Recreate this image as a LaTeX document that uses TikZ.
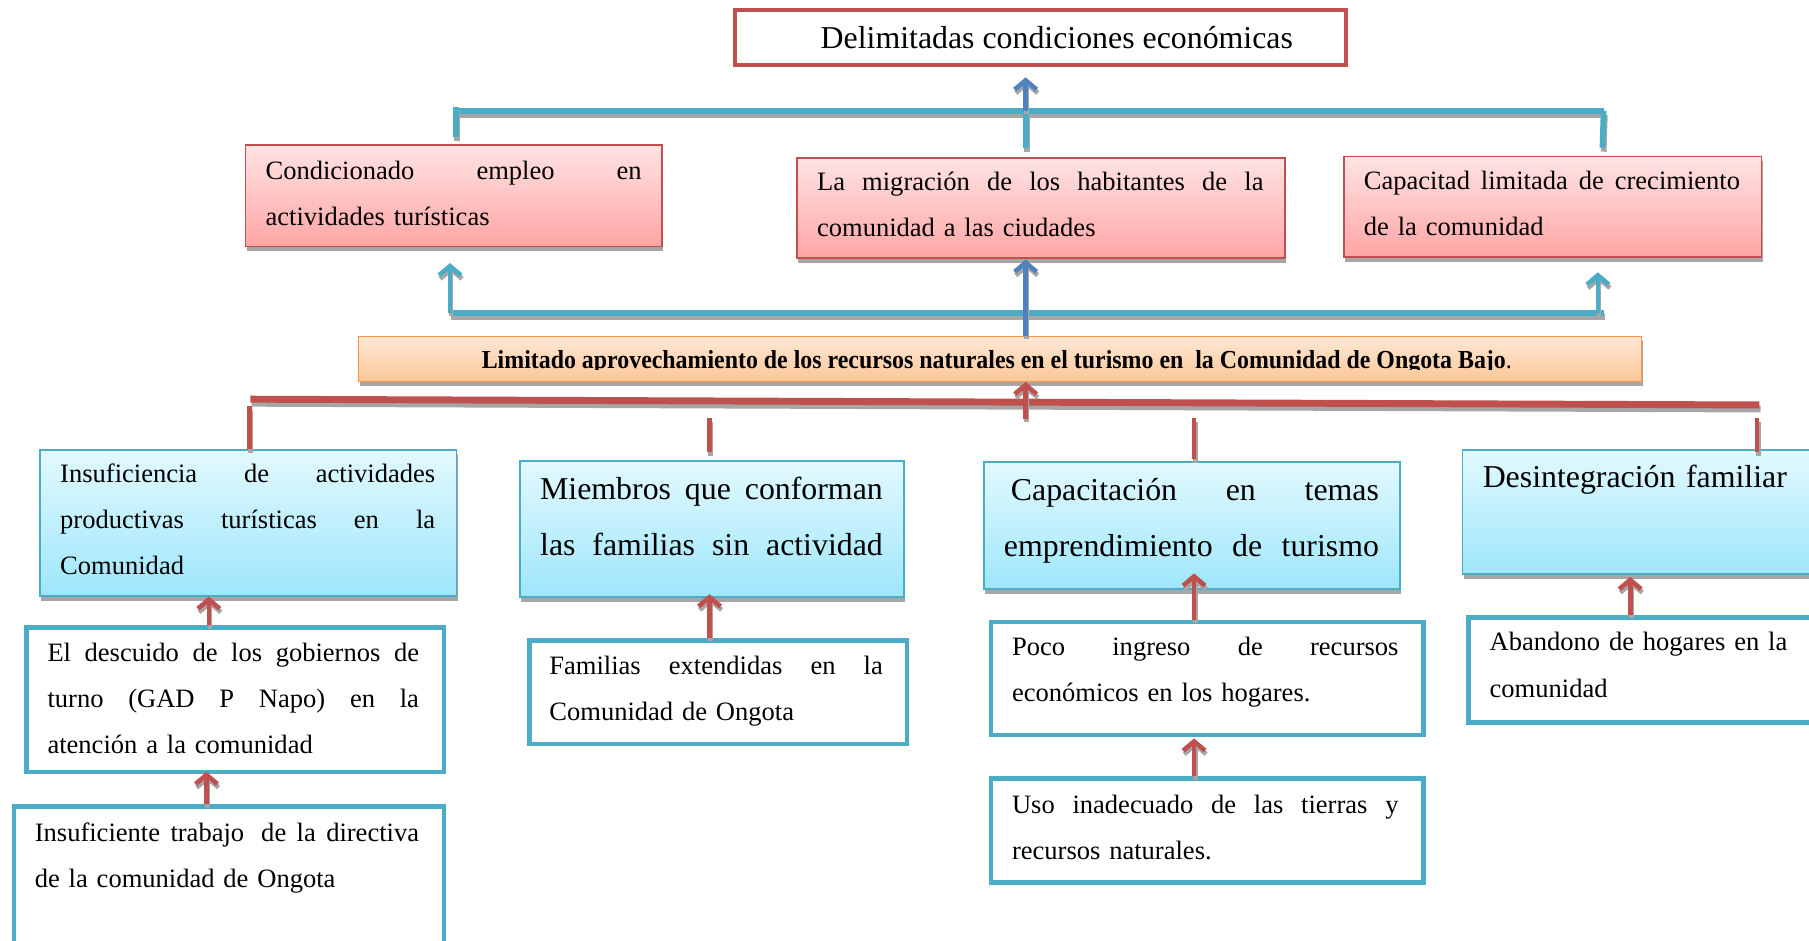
\documentclass[tikz,border=0pt]{standalone}
\usepackage{fontspec}
\usepackage{graphicx}
\setmainfont{Liberation Serif}
\usetikzlibrary{arrows.meta,shadows,calc}
\definecolor{cred}{HTML}{C0504D}
\definecolor{cteal}{HTML}{4BACC6}
\definecolor{cblue}{HTML}{4F81BD}
\definecolor{corange}{HTML}{F79646}
\definecolor{sgray}{HTML}{A6A6A6}
\definecolor{pinkT}{HTML}{FFE3E3}
\definecolor{pinkB}{HTML}{FFA5A5}
\definecolor{cyanT}{HTML}{E2F9FE}
\definecolor{cyanB}{HTML}{9EE6FB}
\definecolor{orT}{HTML}{FEE8D6}
\definecolor{orB}{HTML}{FBC697}
\newcommand{\jsp}{\hskip 0.25em plus 1fil\relax}
\newcommand{\jline}[2]{\leavevmode\hbox to #1{#2}}
\tikzset{
  boxshadow/.style={drop shadow={shadow xshift=1pt,shadow yshift=-4pt,fill=sgray,opacity=1}},
  pinkbox/.style={draw=cred, line width=1.5pt, top color=pinkT, bottom color=pinkB, boxshadow, anchor=north west, inner sep=0pt},
  cyanbox/.style={draw=cteal, line width=1.5pt, top color=cyanT, bottom color=cyanB, boxshadow, anchor=north west, inner sep=0pt},
  whitebox/.style={draw=cteal, line width=4pt, fill=white, anchor=north west, inner sep=0pt},
  titlebox/.style={draw=cred, line width=3.5pt, fill=white, anchor=north west, inner sep=0pt},
  orangebox/.style={draw=corange, line width=1.5pt, top color=orT, bottom color=orB, boxshadow, anchor=north west, inner sep=0pt},
  txtA/.style={anchor=north west, inner sep=0pt, align=left, font=\fontsize{23}{40}\selectfont},
  txtB/.style={anchor=north west, inner sep=0pt, align=left, font=\fontsize{27.6}{48}\selectfont},
  lineshadow/.style={preaction={draw=sgray, line width=#1, transform canvas={shift={(1pt,-3.5pt)}}}},
  tealline/.style={draw=cteal, line width=5pt, lineshadow=5pt},
  redline/.style={draw=cred, line width=6pt, lineshadow=6pt},
  redstub/.style={draw=cred, line width=4pt, lineshadow=4pt},
  tip/.style={-{Straight Barb[length=8pt,width=19pt]}},
  arrowshadow/.style={preaction={draw=sgray, line width=4pt, tip, transform canvas={shift={(1pt,-3pt)}}}},
  redarrow/.style={draw=cred, line width=4pt, tip, arrowshadow},
  bluearrow/.style={draw=cblue, line width=4pt, tip, arrowshadow},
  tealarrow/.style={draw=cteal, line width=4pt, tip, arrowshadow},
}
\begin{document}
\begin{tikzpicture}[x=1pt,y=-1pt]
\useasboundingbox (0,0) rectangle (1568,815);
\clip (0,0) rectangle (1568,815);
\fill[white] (0,0) rectangle (1568,815);

% ---------- top ----------
\node[titlebox, minimum width=530pt, minimum height=48pt] (top) at (635,7) {};
\node[anchor=base, inner sep=0pt, font=\fontsize{27.6}{33}\selectfont] (top-t) at (916,42) {Delimitadas condiciones económicas};

% ---------- effects row ----------
\node[pinkbox, minimum width=361pt, minimum height=88pt] (a) at (212,125) {};
\node[txtA, text width=326pt] (a-t) at (230,135) {\rule{0pt}{20pt}\jline{326pt}{Condicionado\jsp empleo\jsp en}\\actividades turísticas};

\node[pinkbox, minimum width=423pt, minimum height=87pt] (b) at (690,136) {};
\node[txtA, text width=387pt] (b-t) at (708,145) {\rule{0pt}{20pt}\jline{387pt}{La\jsp migración\jsp de\jsp los\jsp habitantes\jsp de\jsp la}\\comunidad a las ciudades};

\node[pinkbox, minimum width=362pt, minimum height=87pt] (c) at (1164,135) {};
\node[txtA, text width=326pt] (c-t) at (1182,144) {\rule{0pt}{20pt}\jline{326pt}{Capacitad\jsp limitada\jsp de\jsp crecimiento}\\de la comunidad};

% ---------- central problem ----------
\node[orangebox, minimum width=1112pt, minimum height=39pt] (o) at (310,291) {};
\begin{scope}
\clip (310,293) rectangle (1422,320.5);
\node[anchor=base, inner sep=0pt, font=\bfseries\fontsize{22.5}{26}\selectfont] (o-t) at (864,319) {\scalebox{0.92}[1]{Limitado aprovechamiento de los recursos naturales en el turismo en~ la Comunidad de Ongota Bajo{\mdseries .}}};
\end{scope}

% ---------- causes row ----------
\node[cyanbox, minimum width=361pt, minimum height=127pt] (d1) at (34,389) {};
\node[txtA, text width=325pt] (d1-t) at (52,398) {\rule{0pt}{20pt}\jline{325pt}{Insuficiencia\jsp de\jsp actividades}\\\jline{325pt}{productivas\jsp turísticas\jsp en\jsp la}\\Comunidad};

\node[cyanbox, minimum width=333pt, minimum height=118pt] (d2) at (450,399) {};
\node[txtB, text width=297pt] (d2-t) at (468,409) {\rule{0pt}{24pt}\jline{297pt}{Miembros\jsp que\jsp conforman}\\\jline{297pt}{las\jsp familias\jsp sin\jsp actividad}};

\node[cyanbox, minimum width=361pt, minimum height=110pt] (d3) at (852,400) {};
\node[txtB, text width=325pt] (d3-t) at (870,410) {\rule{0pt}{24pt}\hspace*{6pt}\jline{319pt}{Capacitación\jsp en\jsp temas}\\\jline{325pt}{emprendimiento\jsp de\jsp turismo}};

\node[cyanbox, minimum width=340pt, minimum height=108pt] (d4) at (1267,389) {};
\node[txtB, text width=290pt] (d4-t) at (1285,398) {\rule{0pt}{24pt}Desintegración familiar};

% ---------- sub causes ----------
\node[whitebox, minimum width=362pt, minimum height=125pt] (e1) at (21,542) {};
\node[txtA, text width=322pt] (e1-t) at (41,553) {\rule{0pt}{20pt}\jline{322pt}{El\jsp descuido\jsp de\jsp los\jsp gobiernos\jsp de}\\\jline{322pt}{turno\jsp (GAD\jsp P\jsp Napo)\jsp en\jsp la}\\atención a la comunidad};

\node[whitebox, minimum width=327pt, minimum height=90pt] (e2) at (457,553) {};
\node[txtA, text width=289pt] (e2-t) at (476,564) {\rule{0pt}{20pt}\jline{289pt}{Familias\jsp extendidas\jsp en\jsp la}\\Comunidad de Ongota};

\node[whitebox, minimum width=375pt, minimum height=98pt] (e3) at (857,537) {};
\node[txtA, text width=335pt] (e3-t) at (877,548) {\rule{0pt}{20pt}\jline{335pt}{Poco\jsp ingreso\jsp de\jsp recursos}\\económicos en los hogares.};

\node[whitebox, minimum width=340pt, minimum height=91pt] (e4) at (1271,533) {};
\node[txtA, text width=280pt] (e4-t) at (1291,544) {\rule{0pt}{20pt}Abandono de hogares en la\\comunidad};

\node[whitebox, minimum width=373pt, minimum height=150pt] (f1) at (10,697) {};
\node[txtA, text width=333pt] (f1-t) at (30,709) {\rule{0pt}{20pt}\jline{333pt}{Insuficiente\jsp trabajo\hskip 0.5em plus 1fil\relax de\jsp la\jsp directiva}\\de la comunidad de Ongota};

\node[whitebox, minimum width=375pt, minimum height=90pt] (f3) at (857,673) {};
\node[txtA, text width=335pt] (f3-t) at (877,685) {\rule{0pt}{20pt}\jline{335pt}{Uso\jsp inadecuado\jsp de\jsp las\jsp tierras\jsp y}\\recursos naturales.};

% ---------- upper connectors ----------
\coordinate (ub-l) at (393,96);
\coordinate (ub-r) at (1390,96);
\coordinate (ub-m) at (889,96);
\coordinate (ub-la) at (395,93);
\coordinate (ub-lb) at (395,119);
\coordinate (ub-rb) at (1389,128);
\coordinate (ub-mb) at (889,128);
\coordinate (top-in) at (889,67);
\draw[tealline] (ub-l) -- (ub-r);
\draw[tealline] (ub-la) -- (ub-lb);
\draw[tealline] (ub-r) -- (ub-rb);
\draw[tealline] (ub-m) -- (ub-mb);
\draw[bluearrow] (ub-m) -- (top-in);

% ---------- lower connectors ----------
\coordinate (lb-l) at (390,271);
\coordinate (lb-r) at (1390,271);
\coordinate (lb-rr) at (1385,271);
\coordinate (a-in) at (390,228);
\coordinate (c-in) at (1385,236);
\coordinate (b-in) at (889,225);
\draw[tealline] (lb-l) -- (lb-r);
\draw[tealarrow] (lb-l) -- (a-in);
\draw[tealarrow] (lb-rr) -- (c-in);
\draw[bluearrow] (o.north -| b-in) -- (b-in);

% ---------- red bar ----------
\coordinate (rb-l) at (217,346);
\coordinate (rb-r) at (1525,351);
\coordinate (rb-m) at (889,363);
\coordinate (o-in) at (889,331);
\draw[redline] (rb-l) -- (rb-r);
\draw[redarrow] (rb-m) -- (o-in);
\coordinate (s1) at (216,352);
\coordinate (s2) at (615,362);
\coordinate (s3) at (1035,362);
\coordinate (s4) at (1523,362);
\draw[redstub] (s1) -- (d1.north -| s1);
\draw[redstub] (s2) -- ($(d2.north -| s2)+(0,-7)$);
\draw[redstub] (s3) -- ($(d3.north -| s3)+(0,-2)$);
\draw[redstub] (s4) -- ($(d4.north -| s4)+(0,3)$);

% ---------- cause arrows ----------
\coordinate (x1) at (181,517);
\coordinate (x2) at (179,669);
\coordinate (x3) at (615,515);
\coordinate (x4) at (1035,497);
\coordinate (x5) at (1035,640);
\coordinate (x6) at (1413,500);
\draw[redarrow] (e1.north -| x1) -- (x1);
\draw[redarrow] (f1.north -| x2) -- (x2);
\draw[redarrow] (e2.north -| x3) -- (x3);
\draw[redarrow] (e3.north -| x4) -- (x4);
\draw[redarrow] (f3.north -| x5) -- (x5);
\draw[redarrow] (e4.north -| x6) -- (x6);
\end{tikzpicture}
\end{document}
